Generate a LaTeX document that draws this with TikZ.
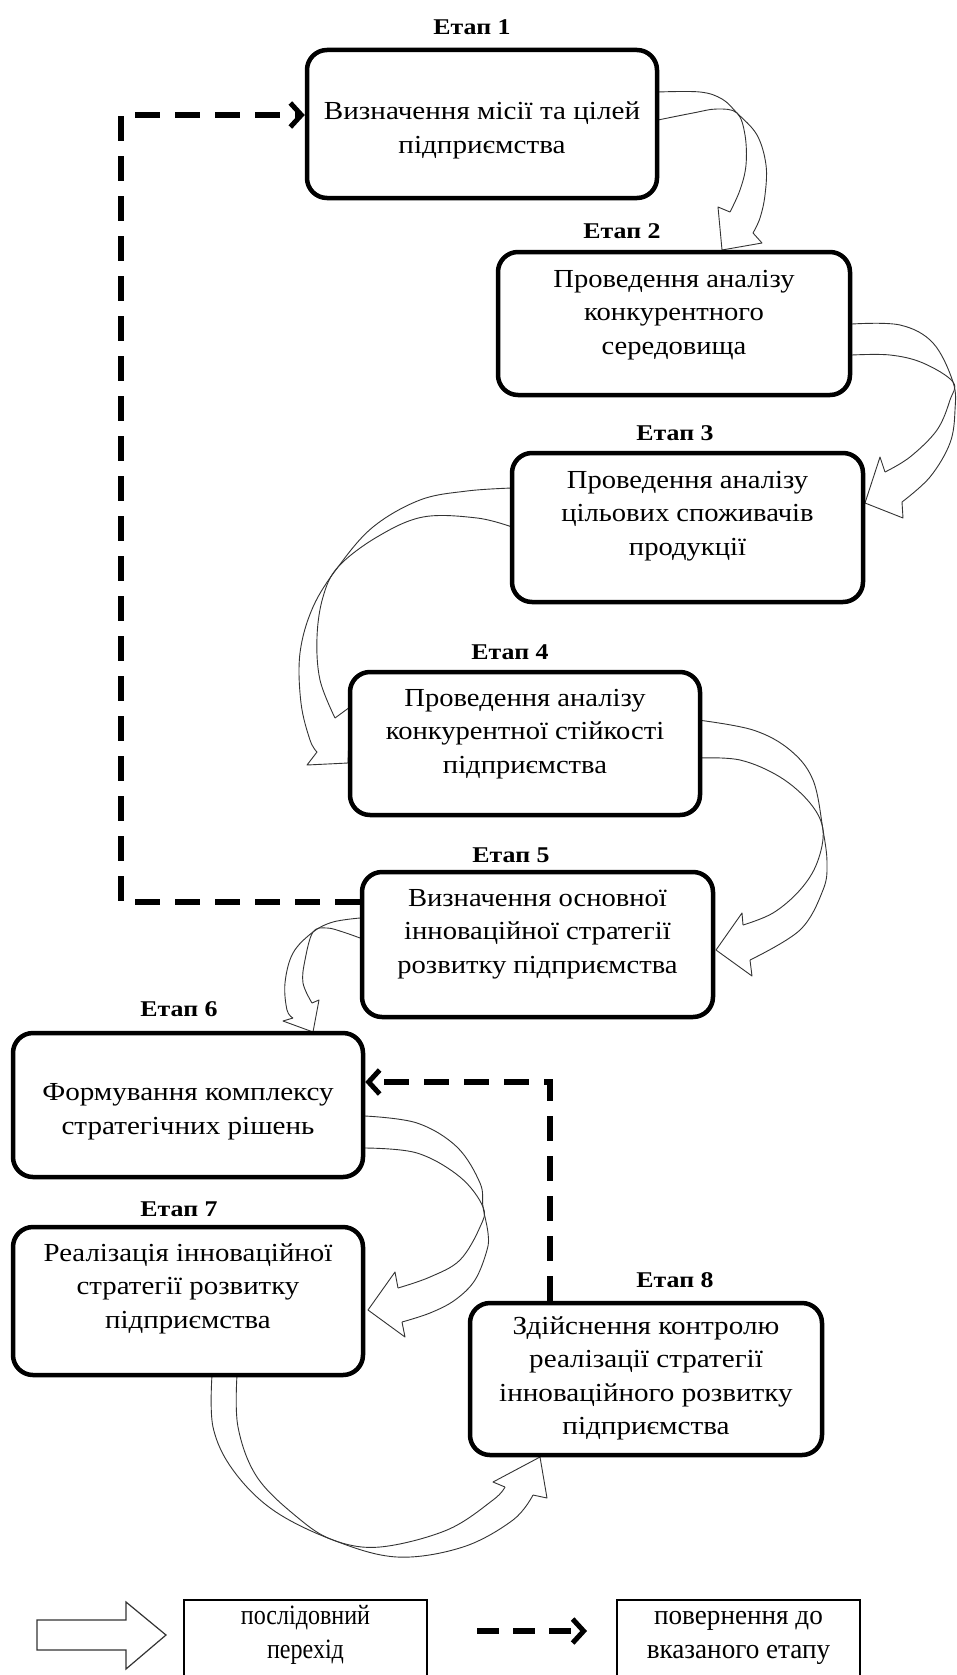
\documentclass[tikz,border=0pt]{standalone}
\usepackage{fontspec}
\usepackage{graphicx}
\setmainfont{Liberation Serif}
\usetikzlibrary{arrows.meta}
\newcommand\widetext[2]{\scalebox{#1}[1]{\begin{tabular}{@{}c@{}}#2\end{tabular}}}
\begin{document}
\begin{tikzpicture}[x=1pt,y=-1pt,
  stagebox/.style={draw=black,line width=4.5pt,rounded corners=20pt,fill=white,inner sep=0pt},
  stagetext/.style={align=center,font=\fontsize{26}{33.5}\selectfont,inner sep=0pt},
  stagelabel/.style={font=\fontsize{22.5}{24}\selectfont\bfseries,inner sep=0pt},
  curvearrow/.style={draw=black!80,line width=0.9pt,line join=round},
  dashline/.style={line width=6pt,dash pattern=on 25pt off 15pt},
  dashtip/.style={-{Straight Barb[length=11pt,width=24pt,line width=5pt]}},
  legendbox/.style={draw=black,line width=1.3pt,inner sep=0pt},
  legendtext/.style={align=center,font=\fontsize{28}{34}\selectfont,inner sep=0pt}
]
\useasboundingbox (0,0) rectangle (957,1675);
\fill[white] (0,0) rectangle (957,1675);

% curved block arrows
% 1 -> 2
\draw[curvearrow] plot[smooth,tension=0.6] coordinates {(658,92) (700,92) (722,99) (737,113) (757,135) (766,165) (765,195) (760,218) (753,233)};
\draw[curvearrow] plot[smooth,tension=0.6] coordinates {(658,120) (693,113) (717,109) (737,113) (745,135) (746,165) (740,190) (730,212)};
\draw[curvearrow] (730,212) -- (718,207) -- (722,250) -- (762,243) -- (753,233);
% 2 -> 3
\draw[curvearrow] plot[smooth,tension=0.6] coordinates {(852,324) (900,325) (933,343) (953,382) (955,410) (950,443) (930,477) (902,502)};
\draw[curvearrow] plot[smooth,tension=0.6] coordinates {(852,355) (890,355) (923,363) (953,382) (950,400) (937,430) (910,457) (885,472)};
\draw[curvearrow] (885,472) -- (880,457) -- (865,503) -- (903,518) -- (902,502);
% 3 -> 4
\draw[curvearrow] plot[smooth,tension=0.6] coordinates {(512,488) (467,491) (420,500) (373,527) (338,567) (313,607) (300,653) (301,703) (310,740) (317,752)};
\draw[curvearrow] plot[smooth,tension=0.6] coordinates {(512,527) (477,518) (423,517) (377,537) (338,567) (323,597) (317,637) (320,680) (335,718)};
\draw[curvearrow] (335,718) -- (350,707) -- (348,763) -- (307,765) -- (317,752);
% 4 -> 5
\draw[curvearrow] plot[smooth,tension=0.6] coordinates {(698,720) (753,730) (790,750) (813,780) (823,830) (827,863) (823,890) (800,930) (750,960)};
\draw[curvearrow] plot[smooth,tension=0.6] coordinates {(698,758) (740,760) (780,777) (810,803) (823,830) (817,863) (800,890) (773,913) (743,925)};
\draw[curvearrow] (743,925) -- (742,913) -- (716,950) -- (752,976) -- (750,960);
% 5 -> 6
\draw[curvearrow] plot[smooth,tension=0.6] coordinates {(360,918) (333,922) (313,932) (293,953) (285,983) (287,1010) (293,1018)};
\draw[curvearrow] plot[smooth,tension=0.6] coordinates {(360,938) (343,932) (327,928) (313,932) (305,960) (303,983) (312,1003)};
\draw[curvearrow] (312,1003) -- (319,1000) -- (313,1032) -- (283,1021) -- (293,1018);
% 6 -> 7
\draw[curvearrow] plot[smooth,tension=0.6] coordinates {(365,1116) (417,1123) (457,1147) (480,1183) (483,1207) (488,1233) (487,1250) (475,1280) (455,1300) (430,1313) (402,1322)};
\draw[curvearrow] plot[smooth,tension=0.6] coordinates {(365,1148) (417,1153) (460,1177) (483,1207) (480,1227) (460,1260) (430,1277) (398,1288)};
\draw[curvearrow] (398,1288) -- (395,1272) -- (368,1310) -- (405,1337) -- (402,1322);
% 7 -> 8
\draw[curvearrow] plot[smooth,tension=0.6] coordinates {(212,1375) (213,1427) (233,1470) (273,1510) (333,1540) (397,1557) (463,1547) (513,1520) (533,1495)};
\draw[curvearrow] plot[smooth,tension=0.6] coordinates {(237,1375) (238,1427) (257,1477) (297,1517) (333,1540) (380,1547) (447,1530) (493,1500) (505,1487)};
\draw[curvearrow] (505,1487) -- (493,1482) -- (540,1457) -- (547,1498) -- (533,1495);

% stage boxes
\node[stagebox,minimum width=350pt,minimum height=148pt] (b1) at (482,124) {};
\node[stagebox,minimum width=352pt,minimum height=143pt] (b2) at (674,323.5) {};
\node[stagebox,minimum width=351pt,minimum height=149pt] (b3) at (687.5,527.5) {};
\node[stagebox,minimum width=350pt,minimum height=143pt] (b4) at (525,743.5) {};
\node[stagebox,minimum width=351pt,minimum height=145pt] (b5) at (537.5,944.5) {};
\node[stagebox,minimum width=350pt,minimum height=144pt] (b6) at (188,1105) {};
\node[stagebox,minimum width=350pt,minimum height=148pt] (b7) at (188,1301) {};
\node[stagebox,minimum width=352pt,minimum height=152pt] (b8) at (646,1379) {};

% texts
\node[stagetext] (t1) at (482,130) {\widetext{1.12}{Визначення місії та цілей\\підприємства}};
\node[stagetext] (t2) at (674,314) {\widetext{1.1}{Проведення аналізу\\конкурентного\\середовища}};
\node[stagetext] (t3) at (687.5,515) {\widetext{1.1}{Проведення аналізу\\цільових споживачів\\продукції}};
\node[stagetext] (t4) at (525,733) {\widetext{1.1}{Проведення аналізу\\конкурентної стійкості\\підприємства}};
\node[stagetext] (t5) at (537.5,933) {\widetext{1.1}{Визначення основної\\інноваційної стратегії\\розвитку підприємства}};
\node[stagetext] (t6) at (188,1111) {\widetext{1.12}{Формування комплексу\\стратегічних рішень}};
\node[stagetext] (t7) at (188,1288) {\widetext{1.11}{Реалізація інноваційної\\стратегії розвитку\\підприємства}};
\node[stagetext] (t8) at (646,1378) {\widetext{1.12}{Здійснення контролю\\реалізації стратегії\\інноваційного розвитку\\підприємства}};

% labels
\node[stagelabel] (l1) at (472,27) {\scalebox{1.15}[1]{Етап 1}};
\node[stagelabel] (l2) at (622,231) {\scalebox{1.15}[1]{Етап 2}};
\node[stagelabel] (l3) at (675,433) {\scalebox{1.15}[1]{Етап 3}};
\node[stagelabel] (l4) at (510,652) {\scalebox{1.15}[1]{Етап 4}};
\node[stagelabel] (l5) at (511,855) {\scalebox{1.15}[1]{Етап 5}};
\node[stagelabel] (l6) at (179,1009) {\scalebox{1.15}[1]{Етап 6}};
\node[stagelabel] (l7) at (179,1209) {\scalebox{1.15}[1]{Етап 7}};
\node[stagelabel] (l8) at (675,1280) {\scalebox{1.15}[1]{Етап 8}};

% dashed return connectors
\coordinate (c1) at (121,902);
\coordinate (c2) at (121,115);
\draw[dashline,dashtip] (c1 -| b5.west) -- (c1) -- (c2) -- (c2 -| b1.west);
\coordinate (c3) at (550,1082);
\draw[dashline,dashtip] (c3 |- b8.north) -- (c3) -- (c3 -| b6.east);

% legend
\draw[curvearrow,line width=1.2pt,line join=miter] (37,1620) -- (126,1620) -- (126,1602) -- (166,1635) -- (126,1669) -- (126,1650) -- (37,1650) -- cycle;
\node[legendbox,minimum width=243pt,minimum height=90pt] (lg1) at (305.5,1645) {};
\node[legendtext] (lt1) at (305.5,1635) {\widetext{0.86}{послідовний\\перехід}};
\coordinate (da) at (477,1631);
\coordinate (db) at (587,1631);
\draw[dashline,dashtip,dash pattern=on 22pt off 14pt] (da) -- (db);
\node[legendbox,minimum width=243pt,minimum height=90pt] (lg2) at (738.5,1645) {};
\node[legendtext] (lt2) at (738.5,1635) {\widetext{0.97}{повернення до\\вказаного етапу}};
\end{tikzpicture}
\end{document}
